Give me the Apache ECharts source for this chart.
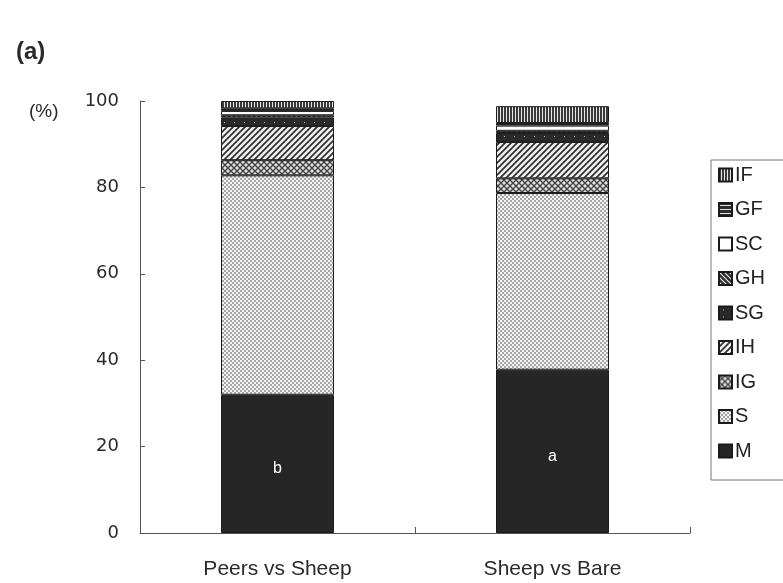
<!DOCTYPE html>
<html>
<head>
<meta charset="utf-8">
<script src="https://cdn.jsdelivr.net/npm/echarts@6/dist/echarts.min.js"></script>
<style>
  html, body { margin: 0; padding: 0; background: #ffffff; }
  #chart { width: 783px; height: 583px; }
</style>
</head>
<body>
<div id="chart"></div>
<script>
// Categories and stacked percentages (bottom to top: M, S, IG, IH, SG, GH, SC, GF, IF)
const categories = ['Peers vs Sheep', 'Sheep vs Bare'];
const M  = [32.0, 37.8];
const S  = [50.8, 40.9];
const IG = [3.5, 3.4];
const IH = [7.9, 8.4];
const SG = [2.0, 2.1];
const GH = [0.5, 0.5];
const SC = [1.0, 1.2];
const GF = [0.6, 0.6];
const IF = [1.7, 3.9];
const significance = ['b', 'a'];
const yTicks = [0, 20, 40, 60, 80, 100];

// Small canvas tiles used as fill patterns
function tile(w, h, draw) {
  const c = document.createElement('canvas');
  c.width = w; c.height = h;
  const g = c.getContext('2d');
  draw(g, w, h);
  return { image: c, repeat: 'repeat' };
}

const patterns = {
  M: '#262626',
  S: tile(4, 4, (g) => {
    g.fillStyle = '#a6a6a6'; g.fillRect(0, 0, 4, 4);
    g.fillStyle = '#f4f4f4';
    g.fillRect(0, 0, 2, 2);
    g.fillRect(2, 2, 2, 2);
  }),
  IG: tile(6, 6, (g) => {
    g.fillStyle = '#e2e2e2'; g.fillRect(0, 0, 6, 6);
    g.strokeStyle = '#444'; g.lineWidth = 1.4;
    g.beginPath();
    g.moveTo(0, 0); g.lineTo(6, 6);
    g.moveTo(6, 0); g.lineTo(0, 6);
    g.stroke();
  }),
  IH: tile(6, 6, (g) => {
    g.fillStyle = '#f4f4f4'; g.fillRect(0, 0, 6, 6);
    g.strokeStyle = '#333'; g.lineWidth = 1.8;
    g.beginPath();
    g.moveTo(-1, 7); g.lineTo(7, -1);
    g.moveTo(-4, 4); g.lineTo(4, -4);
    g.moveTo(2, 10); g.lineTo(10, 2);
    g.stroke();
  }),
  SG: tile(10, 7, (g) => {
    g.fillStyle = '#2a2a2a'; g.fillRect(0, 0, 10, 7);
    g.fillStyle = '#bdbdbd'; g.fillRect(4, 3, 1, 1);
  }),
  GH: tile(5, 5, (g) => {
    g.fillStyle = '#2e2e2e'; g.fillRect(0, 0, 5, 5);
    g.strokeStyle = '#e8e8e8'; g.lineWidth = 1.2;
    g.beginPath();
    g.moveTo(-1, -1); g.lineTo(6, 6);
    g.moveTo(-1, 4); g.lineTo(1, 6);
    g.moveTo(4, -1); g.lineTo(6, 1);
    g.stroke();
  }),
  SC: '#ffffff',
  GF: tile(4, 4, (g) => {
    g.fillStyle = '#2e2e2e'; g.fillRect(0, 0, 4, 4);
    g.fillStyle = '#e0e0e0'; g.fillRect(0, 2, 4, 1);
  }),
  IF: tile(3, 4, (g) => {
    g.fillStyle = '#e8e8e8'; g.fillRect(0, 0, 3, 4);
    g.fillStyle = '#3a3a3a'; g.fillRect(0, 0, 2, 4);
  })
};

const stackOrder = [
  ['M', M], ['S', S], ['IG', IG], ['IH', IH], ['SG', SG],
  ['GH', GH], ['SC', SC], ['GF', GF], ['IF', IF]
];

const baseFont = 'Liberation Sans, Arial, sans-serif';

const series = stackOrder.map(([name, values]) => {
  const s = {
    name: name,
    type: 'bar',
    stack: 'total',
    barWidth: 113,
    data: values,
    itemStyle: { color: patterns[name], borderColor: '#1a1a1a', borderWidth: 1 },
    emphasis: { disabled: true }
  };
  if (name === 'M') {
    s.label = {
      show: true,
      position: 'inside',
      offset: [0, 5],
      color: '#ffffff',
      fontSize: 16,
      fontFamily: baseFont,
      formatter: (p) => significance[p.dataIndex]
    };
  }
  return s;
});

const chart = echarts.init(document.getElementById('chart'), null, { renderer: 'canvas' });
chart.setOption({
  animation: false,
  backgroundColor: '#ffffff',
  textStyle: { fontFamily: baseFont },
  title: [
    { text: '(a)', left: 11, top: 35,
      textStyle: { fontSize: 24, fontWeight: 'bold', color: '#2a2a2a', fontFamily: baseFont } },
    { text: '(%)', left: 24, top: 97,
      textStyle: { fontSize: 19, fontWeight: 'normal', color: '#2a2a2a', fontFamily: baseFont } }
  ],
  grid: { left: 140, right: 93, top: 101, bottom: 50 },
  legend: {
    orient: 'vertical',
    left: 711,
    top: 160,
    width: 90,
    padding: [5, 40, 19, 7],
    itemWidth: 13,
    itemHeight: 13,
    itemGap: 14.5,
    icon: 'rect',
    borderColor: '#777',
    borderWidth: 1,
    selectedMode: false,
    textStyle: { fontSize: 20, color: '#222', padding: [0, 0, 0, -2] },
    data: ['IF', 'GF', 'SC', 'GH', 'SG', 'IH', 'IG', 'S', 'M']
  },
  xAxis: {
    type: 'category',
    data: categories,
    axisLine: { lineStyle: { color: '#555', width: 1 } },
    axisTick: { show: true, inside: true, length: 6, lineStyle: { color: '#555' } },
    axisLabel: { fontSize: 21, color: '#2a2a2a', margin: 26 }
  },
  yAxis: {
    type: 'value',
    min: 0,
    max: 100,
    interval: 20,
    axisLine: { show: true, lineStyle: { color: '#555', width: 1 } },
    axisTick: { show: true, inside: true, length: 5, lineStyle: { color: '#555' } },
    splitLine: { show: false },
    axisLabel: {
      fontSize: 18, color: '#2a2a2a', margin: 21,
      fontFamily: 'DejaVu Sans, sans-serif',
      formatter: (v) => (yTicks.indexOf(v) >= 0 ? String(v) : '')
    }
  },
  series: series
});
</script>
</body>
</html>
